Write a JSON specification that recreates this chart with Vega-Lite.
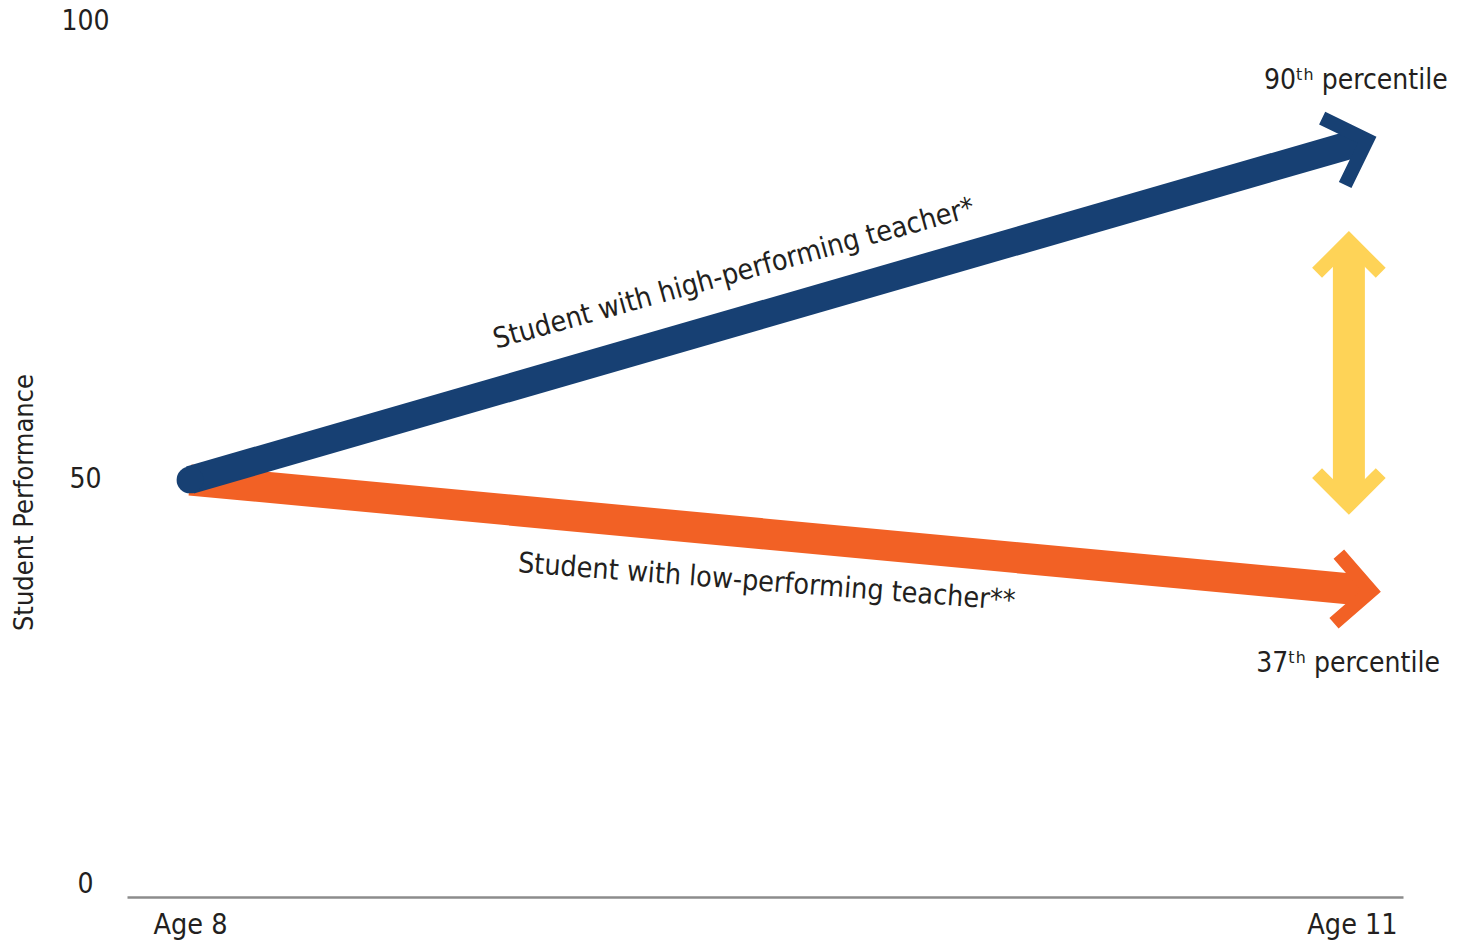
{
  "$schema": "https://vega.github.io/schema/vega-lite/v6.json",
  "width": 1276,
  "height": 890,
  "autosize": {"type": "none"},
  "padding": {"left": 127, "top": 7, "right": 65, "bottom": 44},
  "background": "white",
  "config": {
    "view": {"stroke": null},
    "font": "DejaVu Sans Condensed, Liberation Sans Narrow, sans-serif"
  },
  "encoding": {
    "x": {
      "field": "age",
      "type": "quantitative",
      "scale": {"domain": [7.8373, 11.1317], "nice": false, "zero": false},
      "axis": {
        "values": [8, 11],
        "labelExpr": "'Age ' + datum.value",
        "title": null,
        "grid": false,
        "ticks": false,
        "domain": true,
        "domainColor": "#8c8c8c",
        "domainWidth": 2.5,
        "labelFontSize": 28.5,
        "labelColor": "#231f20",
        "labelPadding": 13,
        "labelFlush": false,
        "labelBaseline": "top"
      }
    },
    "y": {
      "field": "score",
      "type": "quantitative",
      "scale": {"domain": [1.5, 105], "nice": false, "zero": false},
      "axis": {
        "values": [2.9, 50, 103.26],
        "labelExpr": "format(round(datum.value / 50) * 50, 'd')",
        "title": "Student Performance",
        "titleFontSize": 27,
        "titleFontWeight": "normal",
        "titleColor": "#231f20",
        "titleAngle": 270,
        "titleAlign": "center",
        "titleBaseline": "alphabetic",
        "titleX": -95,
        "titleY": 495,
        "grid": false,
        "ticks": false,
        "domain": false,
        "labelFontSize": 28,
        "labelColor": "#231f20",
        "labelAlign": "center",
        "labelBaseline": "middle",
        "labelPadding": 42
      }
    }
  },
  "layer": [
    {
      "data": {"values": [
        {"series": "low", "age": 8, "score": 50},
        {"series": "low", "age": 11.031, "score": 37.17}
      ]},
      "mark": {"type": "line", "color": "#F26125", "strokeWidth": 31, "strokeCap": "butt"}
    },
    {
      "data": {"values": [{"series": "low", "age": 11.049, "score": 37.08}]},
      "mark": {"type": "point", "shape": "M-1,-1L0,0L-1,1", "filled": false, "color": "#F26125", "opacity": 1, "strokeWidth": 14, "strokeJoin": "miter", "strokeCap": "butt", "size": 4800, "angle": 4}
    },
    {
      "data": {"values": [
        {"series": "high", "age": 8, "score": 50},
        {"series": "high", "age": 11.019, "score": 89.28}
      ]},
      "mark": {"type": "line", "color": "#174073", "strokeWidth": 28, "strokeCap": "butt"}
    },
    {
      "data": {"values": [{"series": "high", "age": 8, "score": 50}]},
      "mark": {"type": "point", "shape": "circle", "filled": true, "color": "#174073", "opacity": 1, "size": 720}
    },
    {
      "data": {"values": [{"series": "high", "age": 11.039, "score": 89.53}]},
      "mark": {"type": "point", "shape": "M-1,-1L0,0L-1,1", "filled": false, "color": "#174073", "opacity": 1, "strokeWidth": 14, "strokeJoin": "miter", "strokeCap": "butt", "size": 5000, "angle": -19}
    },
    {
      "data": {"values": [{"age": 10.992, "score": 76.86, "score2": 48.02}]},
      "mark": {"type": "rule", "color": "#FED357", "strokeWidth": 32, "strokeCap": "butt"},
      "encoding": {"y2": {"field": "score2"}}
    },
    {
      "data": {"values": [{"age": 10.992, "score": 77.79}]},
      "mark": {"type": "point", "shape": "M-1,-1L0,0L-1,1", "filled": false, "color": "#FED357", "opacity": 1, "strokeWidth": 14, "strokeJoin": "miter", "strokeCap": "butt", "size": 4050, "angle": -90}
    },
    {
      "data": {"values": [{"age": 10.992, "score": 47.09}]},
      "mark": {"type": "point", "shape": "M-1,-1L0,0L-1,1", "filled": false, "color": "#FED357", "opacity": 1, "strokeWidth": 14, "strokeJoin": "miter", "strokeCap": "butt", "size": 4050, "angle": 90}
    },
    {
      "data": {"values": [{"age": 9.41, "score": 73.0, "label": "Student with high-performing teacher*"}]},
      "mark": {"type": "text", "fontSize": 28.5, "color": "#231f20", "align": "center", "baseline": "alphabetic", "angle": -15.5},
      "encoding": {"text": {"field": "label"}}
    },
    {
      "data": {"values": [{"age": 9.487, "score": 37.08, "label": "Student with low-performing teacher**"}]},
      "mark": {"type": "text", "fontSize": 28.5, "color": "#231f20", "align": "center", "baseline": "alphabetic", "angle": 4.4},
      "encoding": {"text": {"field": "label"}}
    },
    {
      "data": {"values": [
        {"age": 11.01, "score": 95.46, "label": "90ᵗʰ percentile"},
        {"age": 10.99, "score": 27.67, "label": "37ᵗʰ percentile"}
      ]},
      "mark": {"type": "text", "fontSize": 28, "color": "#231f20", "align": "center", "baseline": "alphabetic"},
      "encoding": {"text": {"field": "label"}}
    }
  ]
}
